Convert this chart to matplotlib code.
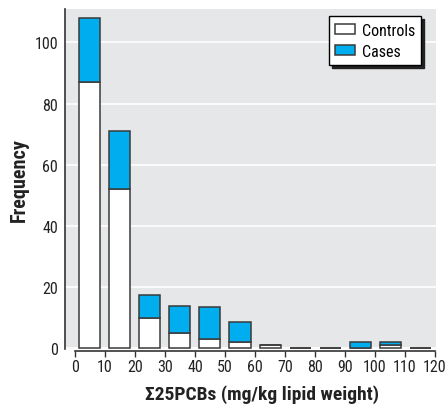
import matplotlib
matplotlib.use("Agg")
import matplotlib.pyplot as plt
import numpy as np

# Data
bin_centers = [5, 15, 25, 35, 45, 55, 65, 75, 85, 95, 105, 115]
controls = [87, 52, 10, 5, 3, 2, 1, 0, 0, 0, 1, 0]
cases = [21, 19, 7.5, 9, 10.5, 6.5, 0, 0, 0, 2, 1, 0]
x_ticks = list(range(0, 121, 10))
y_ticks = [0, 20, 40, 60, 80, 100]

FONT = ['Roboto Condensed', 'Barlow Semi Condensed', 'DejaVu Sans']
plt.rcParams['font.family'] = FONT

W, H = 446, 406
fig = plt.figure(figsize=(W / 100, H / 100), dpi=100)
left, right, bottom, top = 65, 436, 350, 10
ax = fig.add_axes([left / W, 1 - bottom / H, (right - left) / W, (bottom - top) / H])
ax.set_facecolor('#e6e7e8')

edge = '#3a3a3a'
blue = '#00aeef'
ax.bar(bin_centers, controls, width=7, color='white', edgecolor=edge, linewidth=1.1,
       label='Controls', zorder=3)
ax.bar(bin_centers, cases, width=7, bottom=controls, color=blue, edgecolor=edge,
       linewidth=1.1, label='Cases', zorder=3)

ax.set_xlim(-3.33, 120.33)
ax.set_ylim(-0.2, 110.9)
ax.set_xticks(x_ticks)
ax.set_yticks(y_ticks)
ax.yaxis.grid(True, color='white', linewidth=1.2)
ax.set_axisbelow(True)

for s in ['top', 'right']:
    ax.spines[s].set_visible(False)
ax.spines['left'].set_color('#333333')
ax.spines['left'].set_linewidth(1.2)
ax.spines['bottom'].set_bounds(0, 120)
ax.spines['bottom'].set_position(('outward', 1.5))
ax.spines['bottom'].set_color('#333333')
ax.spines['bottom'].set_linewidth(1.2)

ax.tick_params(axis='y', length=0, pad=5, labelsize=11.5, labelcolor='#222222')
ax.tick_params(axis='x', length=4, width=1, color='#333333', pad=2, labelsize=11.5,
               labelcolor='#222222')

ax.set_xlabel('Σ25PCBs (mg/kg lipid weight)', fontsize=14, fontweight='bold',
              color='#222222')
ax.xaxis.set_label_coords(0.531, -0.105)
ax.set_ylabel('Frequency', fontsize=14.5, fontweight='bold', color='#222222')
ax.yaxis.set_label_coords(-0.097, 0.5)

leg = ax.legend(loc='upper right', bbox_to_anchor=(0.96, 0.979), fontsize=11.5,
                frameon=True, fancybox=False, edgecolor='black', framealpha=1,
                shadow={'color': '#222222', 'alpha': 1}, handlelength=1.25,
                handleheight=0.6, borderpad=0.4, labelspacing=0.4,
                handletextpad=0.4, borderaxespad=0.0)
leg.get_frame().set_linewidth(1)

fig.savefig('out.png', dpi=100)
